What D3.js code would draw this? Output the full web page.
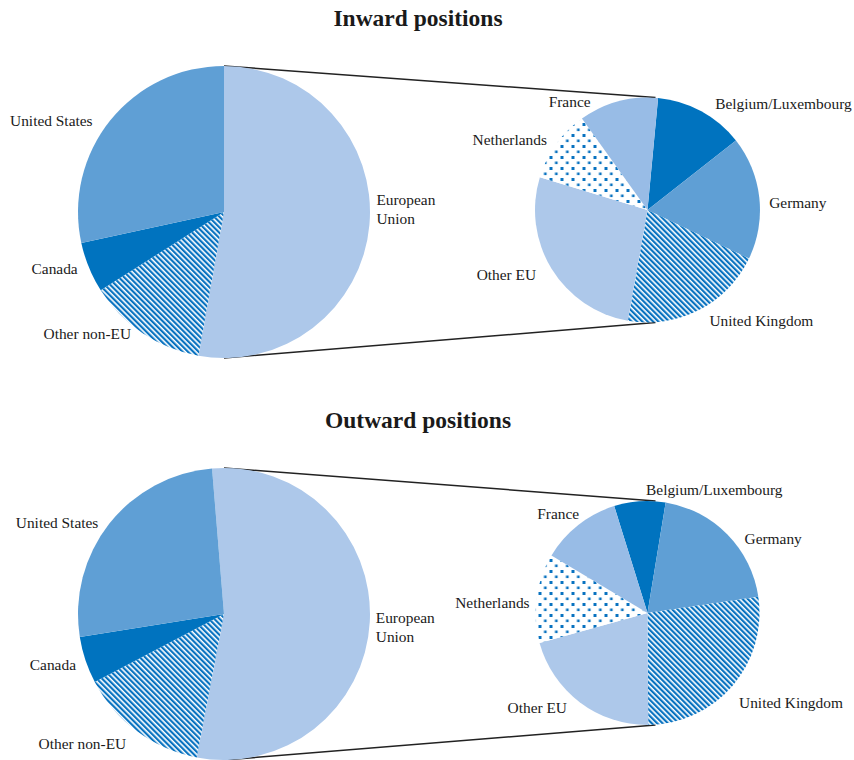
<!DOCTYPE html>
<html>
<head>
  <meta charset="utf-8">
  <title>Inward and outward positions</title>
  <script src="https://d3js.org/d3.v7.min.js"></script>
  <style>
    body { margin: 0; background: #fff; }
    text { font-family: "Liberation Serif", "Times New Roman", serif; fill: #1a1a1a; }
  </style>
</head>
<body>
  <div id="chart"></div>

  <script>
    // Data: shares in percent
    var worldCats = ["European Union", "Other non-EU", "Canada", "United States"];
    var inwardWorld = [52.8, 13.2, 5.6, 28.4];
    var outwardWorld = [54.3, 14.3, 5.2, 26.2];

    var euCats = ["Belgium/Luxembourg", "Germany", "United Kingdom", "Other EU", "Netherlands", "France"];
    var inwardEU = [12.9, 17.7, 20.7, 26.9, 10.4, 11.4];
    var outwardEU = [7.4, 20.1, 27.2, 20.8, 12.9, 11.6];

    var titles = ["Inward positions", "Outward positions"];

    // Fills per category
    var fills = {
      "European Union": "#adc8ea",
      "Other non-EU": "url(#stripes)",
      "Canada": "#0073bf",
      "United States": "#5f9fd5",
      "Belgium/Luxembourg": "#0073bf",
      "Germany": "#5f9fd5",
      "United Kingdom": "url(#stripes)",
      "Other EU": "#adc8ea",
      "Netherlands": "url(#dots)",
      "France": "#98bce6"
    };

    var width = 854, height = 760;

    var svg = d3.select("#chart")
                .append("svg")
                .attr("width", width)
                .attr("height", height);

    // Patterns
    var defs = svg.append("defs");
    var stripes = defs.append("pattern")
      .attr("id", "stripes")
      .attr("patternUnits", "userSpaceOnUse")
      .attr("width", 3.8).attr("height", 10)
      .attr("patternTransform", "rotate(-45)");
    stripes.append("rect").attr("width", 3.8).attr("height", 10).attr("fill", "#fff");
    stripes.append("rect").attr("width", 2.2).attr("height", 10).attr("fill", "#0872c0");

    var dots = defs.append("pattern")
      .attr("id", "dots")
      .attr("patternUnits", "userSpaceOnUse")
      .attr("width", 11).attr("height", 11);
    dots.append("rect").attr("width", 11).attr("height", 11).attr("fill", "#fff");
    dots.append("rect").attr("x", 1).attr("y", 1).attr("width", 3).attr("height", 3).attr("fill", "#0872c0");
    dots.append("rect").attr("x", 6.5).attr("y", 6.5).attr("width", 2.6).attr("height", 2.6).attr("fill", "#0872c0");

    // Layout of the two panels
    var panels = [
      {
        title: titles[0], titleY: 26,
        left: { cx: 224, cy: 212, r: 146, start: 0, cats: worldCats, values: inwardWorld,
                nudge: [[-3, -16], [-6, -8], [-2, -2], [-10, 7]] },
        right: { cx: 647.5, cy: 210, r: 112.5, start: 5.4, cats: euCats, values: inwardEU,
                 nudge: [[9, 2], [0, 6], [6, 2], [-7, 1], [-1, 1], [-25, 10]] }
      },
      {
        title: titles[1], titleY: 428,
        left: { cx: 224, cy: 614, r: 146, start: -4.7, cats: worldCats, values: outwardWorld,
                nudge: [[-4, 5], [-5, 5], [0, 2], [-3, 5]] },
        right: { cx: 647.5, cy: 613, r: 112, start: -17.3, cats: euCats, values: outwardEU,
                 nudge: [[7, -1], [10, 11], [-1, 11], [-7, -2], [3, 6], [7, -3]],
                 anchor: { "Belgium/Luxembourg": "start" } }
      }
    ];

    var wrap = ["European Union"];
    var lineH = 18.5;

    function drawPie(g, p) {
      var s = p.start * Math.PI / 180;
      var pie = d3.pie().sort(null).startAngle(s).endAngle(s + 2 * Math.PI);
      var arc = d3.arc().innerRadius(0).outerRadius(p.r);
      var arcs = pie(p.values);

      var pg = g.append("g").attr("transform", "translate(" + p.cx + "," + p.cy + ")");
      pg.selectAll("path")
        .data(arcs)
        .enter().append("path")
        .attr("d", arc)
        .attr("fill", (d, i) => fills[p.cats[i]]);

      // Labels, placed just outside each slice
      var R = p.r + 10;
      pg.selectAll("text")
        .data(arcs)
        .enter().append("text")
        .each(function(d, i) {
          var a = (d.startAngle + d.endAngle) / 2;
          var sx = Math.sin(a), cy = -Math.cos(a);
          var name = p.cats[i];
          var anchor = (p.anchor && p.anchor[name]) || (sx > 0.1 ? "start" : sx < -0.1 ? "end" : "middle");
          var x = R * sx + p.nudge[i][0], y = R * cy + p.nudge[i][1];
          var lines = wrap.indexOf(name) >= 0 ? name.split(" ") : [name];
          var t = d3.select(this)
            .attr("x", x).attr("y", y)
            .attr("text-anchor", anchor)
            .attr("font-size", 15.4);
          lines.forEach(function(l, k) {
            t.append("tspan")
             .attr("x", x)
             .attr("y", y + 5 + (k - (lines.length - 1) / 2) * lineH)
             .text(l);
          });
        });
    }

    panels.forEach(function(panel) {
      var g = svg.append("g");

      g.append("text")
       .attr("x", 418).attr("y", panel.titleY)
       .attr("text-anchor", "middle")
       .attr("font-size", 23.5)
       .attr("font-weight", "bold")
       .text(panel.title);

      var L = panel.left, Rt = panel.right;
      // Connector lines from the EU slice to the breakdown pie
      g.append("line")
       .attr("x1", L.cx).attr("y1", L.cy - L.r)
       .attr("x2", Rt.cx + 8).attr("y2", Rt.cy - Rt.r)
       .attr("stroke", "#222").attr("stroke-width", 1.5);
      g.append("line")
       .attr("x1", L.cx).attr("y1", L.cy + L.r)
       .attr("x2", Rt.cx + 8).attr("y2", Rt.cy + Rt.r)
       .attr("stroke", "#222").attr("stroke-width", 1.5);

      drawPie(g, L);
      drawPie(g, Rt);
    });
  </script>
</body>
</html>
